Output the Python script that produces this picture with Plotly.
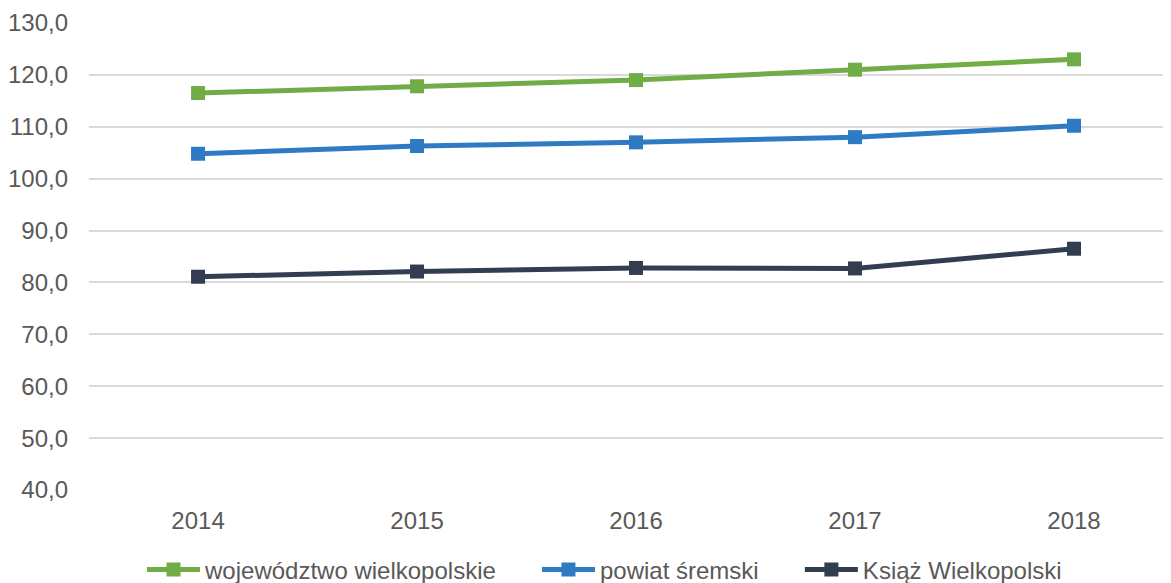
import plotly.graph_objects as go

years = ["2014", "2015", "2016", "2017", "2018"]
wojewodztwo = [116.5, 117.8, 119.0, 121.0, 123.0]
powiat = [104.8, 106.3, 107.0, 108.0, 110.2]
ksiaz = [81.1, 82.1, 82.8, 82.7, 86.5]

series = [
    ("województwo wielkopolskie", wojewodztwo, "#70AD47", "legend", 0.049),
    ("powiat śremski", powiat, "#2E7BC4", "legend2", 0.414),
    ("Książ Wielkopolski", ksiaz, "#323E50", "legend3", 0.657),
]

fig = go.Figure()
legends = {}
for name, vals, color, leg, lx in series:
    fig.add_trace(go.Scatter(
        x=years, y=vals, name=name, mode="lines+markers",
        line=dict(color=color, width=5),
        marker=dict(symbol="square", size=14, color=color),
        legend=leg,
    ))
    legends[leg] = dict(orientation="h", x=lx, xanchor="left", y=-0.171, yanchor="middle",
                        font=dict(size=24, color="#595959"), itemwidth=53,
                        bgcolor="rgba(0,0,0,0)", borderwidth=0)

fig.update_layout(
    width=1163, height=575,
    margin=dict(l=81, r=0, t=15, b=93, autoexpand=False),
    paper_bgcolor="white", plot_bgcolor="white",
    separators=", ",
    font=dict(family="Liberation Sans, Arial, sans-serif", size=24, color="#595959"),
    showlegend=True,
    **legends,
    xaxis=dict(type="category", range=[-0.498, 4.443], showgrid=False, showline=False,
               zeroline=False, ticks="", ticklabelstandoff=14,
               tickfont=dict(size=24, color="#595959")),
    yaxis=dict(range=[40, 130], dtick=10, tickformat=".1f", showgrid=True,
               gridcolor="#D9D9D9", gridwidth=2, zeroline=False, showline=False,
               ticks="", ticklabelstandoff=20, tickfont=dict(size=24, color="#595959")),
)

fig.write_html("out.html")
